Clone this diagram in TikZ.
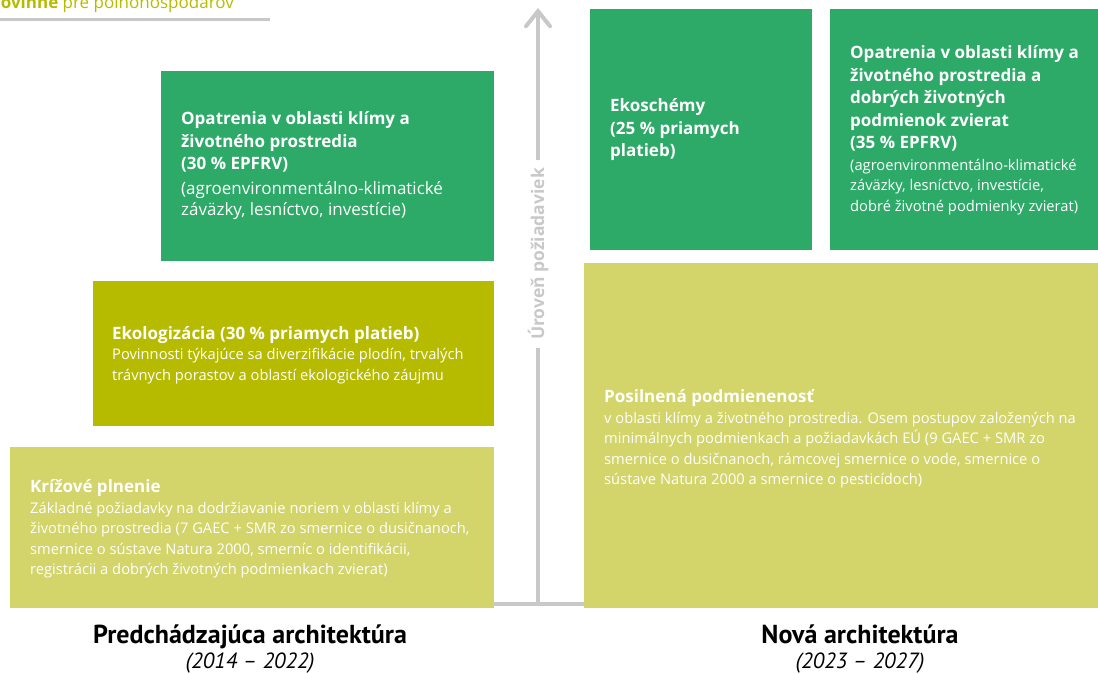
\documentclass[tikz,border=0pt]{standalone}
\usepackage{fontspec}
\setmainfont{Open Sans}
\newfontfamily\narrowfont{PT Sans}
\usetikzlibrary{arrows.meta}

\definecolor{cropgreen}{RGB}{45,170,104}
\definecolor{olive}{RGB}{183,187,0}
\definecolor{paleolive}{RGB}{211,212,106}
\definecolor{axisgray}{RGB}{200,200,200}

\newcommand{\ttl}[1]{{\fontsize{17}{22}\selectfont\bfseries #1}}

\begin{document}
\begin{tikzpicture}[x=1pt,y=-1pt,
    boxtext/.style={anchor=west,align=left,text=white,inner sep=0pt,
      font=\fontsize{14.7}{20.5}\selectfont},
    axisline/.style={draw=axisgray,line width=4pt},
    archtitle/.style={anchor=base,font=\narrowfont\fontsize{26}{30}\selectfont\bfseries},
    archyears/.style={anchor=base,font=\narrowfont\fontsize{22}{26}\selectfont\itshape}]
  \useasboundingbox (0,0) rectangle (1098,673);

  % header cut at the top
  \begin{scope}
    \clip (0,0) rectangle (300,30);
    \node[anchor=base east,inner sep=0pt,text=olive,font=\fontsize{17}{20}\selectfont]
      (hdr) at (234,8) {\textbf{povinné} pre poľnohospodárov};
    \draw[draw=axisgray,line width=3pt] (0,19) -- (270,19);
  \end{scope}

  % old architecture
  \fill[cropgreen] (161,71) rectangle (494,261);
  \fill[olive] (93,281) rectangle (494,426);
  \fill[paleolive] (10,447) rectangle (494,608);

  \node[boxtext,font=\fontsize{17}{21}\selectfont] (oldclim) at (181,166)
    {\ttl{Opatrenia v oblasti klímy a}\\[1.5pt]
    \ttl{životného prostredia}\\[1.5pt] \ttl{(30~\% EPFRV)}\\[4pt]
    (agroenvironmentálno-klimatické\\ záväzky, lesníctvo, investície)};
  \node[boxtext] (green) at (112,355) {\ttl{Ekologizácia (30~\% priamych platieb)}\\
    Povinnosti týkajúce sa diverzifikácie plodín, trvalých\\
    trávnych porastov a oblastí ekologického záujmu};
  \node[boxtext] (cross) at (30,529) {\ttl{Krížové plnenie}\\
    Základné požiadavky na dodržiavanie noriem v oblasti klímy a\\
    životného prostredia (7 GAEC + SMR zo smernice o dusičnanoch,\\
    smernice o sústave Natura 2000, smerníc o identifikácii,\\
    registrácii a dobrých životných podmienkach zvierat)};

  % new architecture
  \fill[cropgreen] (590,9) rectangle (812,250);
  \fill[cropgreen] (830,9) rectangle (1098,250);
  \fill[paleolive] (584,263) rectangle (1098,608);

  \node[boxtext] (eco) at (610,130) {\ttl{Ekoschémy}\\[2pt] \ttl{(25~\% priamych}\\[2pt] \ttl{platieb)}};
  \node[boxtext] (newclim) at (850,130) {\ttl{Opatrenia v oblasti klímy a}\\[2pt]
    \ttl{životného prostredia a}\\[2pt] \ttl{dobrých životných}\\[2pt]
    \ttl{podmienok zvierat}\\[2pt] \ttl{(35~\% EPFRV)}\\[1pt]
    (agroenvironmentálno-klimatické\\ záväzky, lesníctvo, investície,\\
    dobré životné podmienky zvierat)};
  \node[boxtext] (cond) at (604,439) {\ttl{Posilnená podmienenosť}\\
    v oblasti klímy a životného prostredia. Osem postupov založených na\\
    minimálnych podmienkach a požiadavkách EÚ (9 GAEC + SMR zo\\
    smernice o dusičnanoch, rámcovej smernice o vode, smernice o\\
    sústave Natura 2000 a smernice o pesticídoch)};

  % axis
  \coordinate (base) at (538,604);
  \coordinate (top) at (538,8);
  \coordinate (oldedge) at (494,604);
  \coordinate (newedge) at (584,604);
  \node[rotate=90,inner sep=8pt,text=axisgray,font=\fontsize{17.5}{20}\selectfont\bfseries]
    (level) at (538,254) {Úroveň požiadaviek};
  \draw[axisline] (oldedge) -- (newedge);
  \draw[axisline] (base) -- (level.west);
  \draw[axisline,-{Straight Barb[length=15pt,width=24pt,line cap=round]}] (level.east) -- (top);

  \node[archtitle] (oldarch) at (250,643) {Predchádzajúca architektúra};
  \node[archyears] (oldyears) at (250,668) {(2014 – 2022)};
  \node[archtitle] (newarch) at (860,643) {Nová architektúra};
  \node[archyears] (newyears) at (860,668) {(2023 – 2027)};
\end{tikzpicture}
\end{document}
